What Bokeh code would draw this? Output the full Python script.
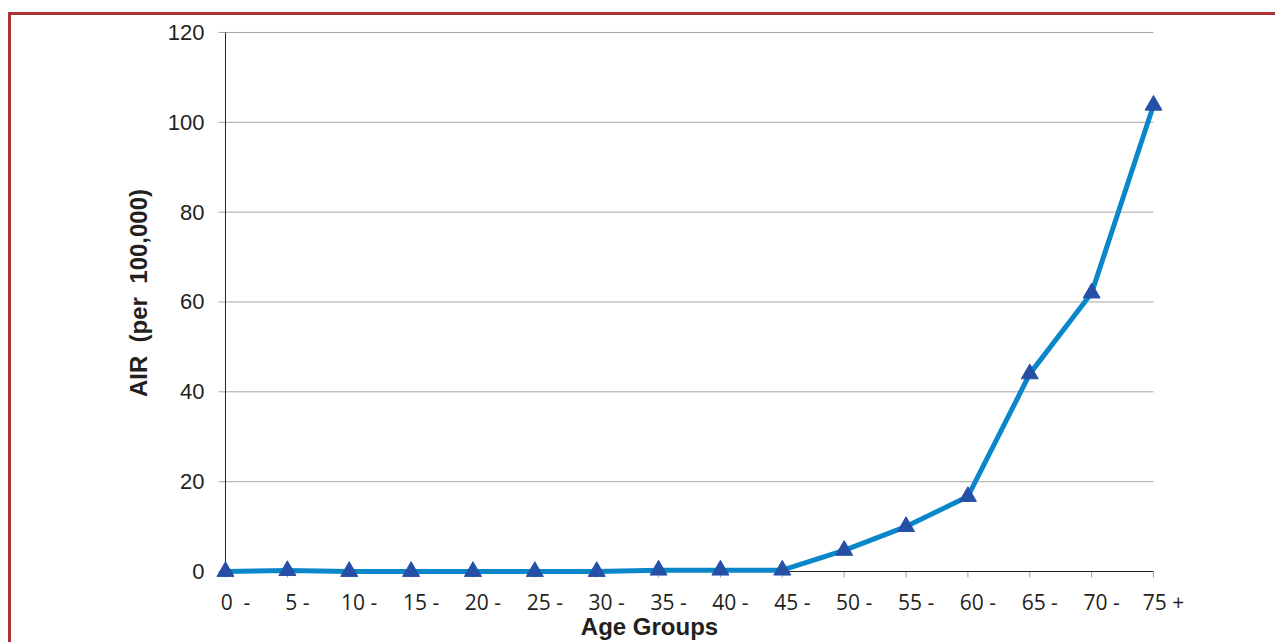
from bokeh.plotting import figure
from bokeh.models import Range1d, FixedTicker, LinearAxis, InlineStyleSheet
from bokeh.embed import file_html
from bokeh.resources import INLINE

age_groups = ["0\u00a0\u00a0-", "5 -", "10 -", "15 -", "20 -", "25 -", "30 -", "35 -",
              "40 -", "45 -", "50 -", "55 -", "60 -", "65 -", "70 -", "75 +"]
air_values = [0.0, 0.2, 0.0, 0.0, 0.0, 0.0, 0.0, 0.3,
              0.3, 0.3, 4.7, 10.0, 16.7, 44.0, 62.0, 103.8]
y_ticks = [0, 20, 40, 60, 80, 100, 120]

xs = list(range(len(age_groups)))
n_last = len(age_groups) - 1
y_max = y_ticks[-1]

# layout geometry (pixels)
W, H = 1275, 642
STEP_X = 61.867          # px per category
STEP_Y = 4.5             # px per unit
PAD_L, PAD_R = 10, 10    # room so edge markers are not clipped
PAD_B, PAD_T = 7, 25
LEFT, RIGHT = 225, 1153  # pixel position of first / last category
TOP, BOTTOM = 32, 572    # pixel position of 120 / 0

padl, padr = PAD_L / STEP_X, PAD_R / STEP_X
shift = 10 / STEP_X      # category labels sit a little right of their ticks
padb, padt = PAD_B / STEP_Y, PAD_T / STEP_Y

p = figure(width=W, height=H, output_backend="svg", toolbar_location=None,
           x_range=Range1d(-padl, n_last + padr),
           y_range=Range1d(-padb, y_max + padt),
           x_axis_location=None, y_axis_location=None,
           min_border_left=LEFT - PAD_L, min_border_right=W - (RIGHT + PAD_R),
           min_border_top=TOP - PAD_T, min_border_bottom=H - (BOTTOM + PAD_B))
p.extra_x_ranges = {"lab": Range1d(-padl - shift, n_last + padr - shift)}
p.outline_line_color = None
p.background_fill_color = "white"
p.border_fill_color = "white"
p.xgrid.grid_line_color = None
p.ygrid.grid_line_color = None

# outer dark-red frame of the figure panel
p.stylesheets = [InlineStyleSheet(css="""
:host { position: relative; overflow: hidden; }
:host::after { content: ''; position: absolute; left: 8px; top: 12px;
  width: 1400px; height: 800px; border-left: 3px solid #a93438;
  border-top: 3px solid #a93438; pointer-events: none; z-index: 10; }
""")]

grid_y = y_ticks[1:]
tick_len_x = 7 / STEP_X
tick_len_y = 6 / STEP_Y

# horizontal gridlines
p.segment(x0=[0] * len(grid_y), x1=[n_last] * len(grid_y),
          y0=grid_y, y1=grid_y, line_color="#a6a6a6", line_width=1)
# y tick marks
p.segment(x0=[-tick_len_x] * len(y_ticks), x1=[0] * len(y_ticks),
          y0=y_ticks, y1=y_ticks, line_color="#a6a6a6", line_width=1)
# x tick marks
p.segment(x0=xs, x1=xs, y0=[0] * len(xs), y1=[-tick_len_y] * len(xs),
          line_color="#a0a0a0", line_width=1)
# axis lines
p.segment(x0=[0, 0], x1=[n_last, 0], y0=[0, 0], y1=[0, y_max],
          line_color="#222222", line_width=1)

p.line(xs, air_values, line_color="#0a87c8", line_width=5)
p.scatter(xs, air_values, marker="triangle", size=17,
          fill_color="#2650a6", line_color="#2650a6")

# x axis: category labels and title
xl = LinearAxis(x_range_name="lab")
xl.ticker = FixedTicker(ticks=xs)
xl.major_label_overrides = {i: lab for i, lab in enumerate(age_groups)}
xl.major_label_text_font = "Open Sans"
xl.major_label_text_font_size = "21px"
xl.major_label_text_color = "#231f20"
xl.major_label_standoff = 9
xl.axis_line_color = None
xl.major_tick_line_color = None
xl.major_tick_out = 0
xl.major_tick_in = 0
xl.minor_tick_line_color = None
xl.axis_label = "Age Groups" + "\u00a0" * 12
xl.axis_label_text_font = "Liberation Sans"
xl.axis_label_text_font_style = "bold"
xl.axis_label_text_font_size = "24px"
xl.axis_label_text_color = "#231f20"
xl.axis_label_standoff = -6
p.add_layout(xl, "below")

# y axis: value labels and title
ya = LinearAxis()
ya.ticker = FixedTicker(ticks=y_ticks)
ya.major_label_text_font = "Liberation Sans"
ya.major_label_text_font_size = "22px"
ya.major_label_text_color = "#231f20"
ya.major_label_standoff = 11
ya.axis_line_color = None
ya.major_tick_line_color = None
ya.major_tick_out = 0
ya.major_tick_in = 0
ya.minor_tick_line_color = None
ya.axis_label = "AIR\u00a0\u00a0(per\u00a0\u00a0100,000)"
ya.axis_label_text_font = "Liberation Sans"
ya.axis_label_text_font_style = "bold"
ya.axis_label_text_font_size = "24px"
ya.axis_label_text_color = "#231f20"
ya.axis_label_standoff = 13
p.add_layout(ya, "left")

open("out.html", "w").write(file_html(p, INLINE))
